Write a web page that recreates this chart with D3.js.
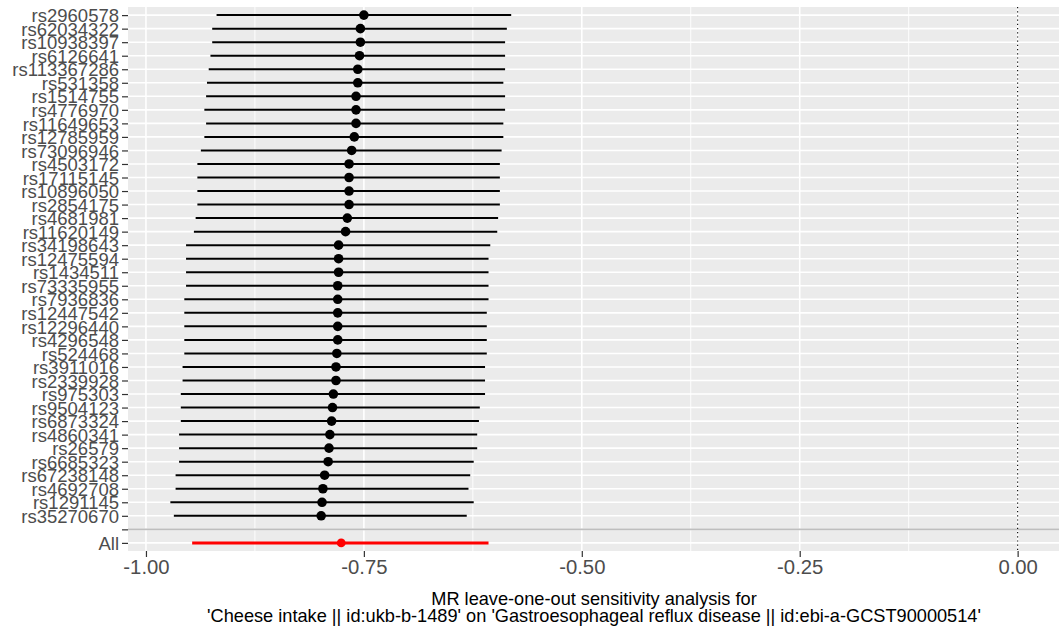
<!DOCTYPE html>
<html>
<head>
<meta charset="utf-8">
<script src="https://cdn.jsdelivr.net/npm/d3@7"></script>
<style>
  html, body { margin: 0; padding: 0; background: #fff; }
  svg { display: block; font-family: "Liberation Sans", Arial, sans-serif; }
</style>
</head>
<body>
<svg id="chart" width="1059" height="637"></svg>
<script>
// Leave-one-out estimates, top to bottom
const snps = [
  "rs2960578", "rs62034322", "rs10938397", "rs6126641", "rs113367286",
  "rs531358", "rs1514755", "rs4776970", "rs11649653", "rs12785959",
  "rs73096946", "rs4503172", "rs17115145", "rs10896050", "rs2854175",
  "rs4681981", "rs11620149", "rs34198643", "rs12475594", "rs1434511",
  "rs73335955", "rs7936836", "rs12447542", "rs12296440", "rs4296548",
  "rs524468", "rs3911016", "rs2339928", "rs975303", "rs9504123",
  "rs6873324", "rs4860341", "rs26579", "rs6685323", "rs67238148",
  "rs4692708", "rs1291145", "rs35270670"
];
const estimate = [
  -0.750, -0.754, -0.754, -0.755, -0.757, -0.757, -0.759, -0.759, -0.759, -0.761,
  -0.764, -0.767, -0.767, -0.767, -0.767, -0.769, -0.771, -0.779, -0.779, -0.779,
  -0.780, -0.780, -0.780, -0.780, -0.780, -0.781, -0.782, -0.782, -0.785, -0.786,
  -0.787, -0.789, -0.790, -0.791, -0.795, -0.797, -0.798, -0.799
];
const lower = [
  -0.919, -0.924, -0.924, -0.926, -0.928, -0.930, -0.931, -0.933, -0.931, -0.933,
  -0.937, -0.941, -0.941, -0.941, -0.941, -0.943, -0.945, -0.954, -0.954, -0.954,
  -0.954, -0.956, -0.956, -0.956, -0.956, -0.956, -0.958, -0.958, -0.960, -0.960,
  -0.960, -0.962, -0.962, -0.962, -0.966, -0.966, -0.972, -0.968
];
const upper = [
  -0.581, -0.586, -0.588, -0.588, -0.588, -0.590, -0.588, -0.588, -0.590, -0.590,
  -0.592, -0.594, -0.594, -0.594, -0.594, -0.596, -0.597, -0.605, -0.607, -0.607,
  -0.607, -0.607, -0.609, -0.609, -0.609, -0.609, -0.611, -0.611, -0.611, -0.617,
  -0.618, -0.620, -0.620, -0.624, -0.628, -0.630, -0.624, -0.632
];
// Combined estimate using all SNPs
const allLabel = "All";
const allEstimate = -0.776;
const allLower = -0.947;
const allUpper = -0.607;

const xTicks = [-1.00, -0.75, -0.50, -0.25, 0.00];
const xMinor = [-0.875, -0.625, -0.375, -0.125];
const titleLines = [
  "MR leave-one-out sensitivity analysis for",
  "'Cheese intake || id:ukb-b-1489' on 'Gastroesophageal reflux disease || id:ebi-a-GCST90000514'"
];

const rows = snps.map((s, i) => ({ snp: s, b: estimate[i], lo: lower[i], hi: upper[i] }));
const allRow = { snp: allLabel, b: allEstimate, lo: allLower, hi: allUpper };

const svg = d3.select("#chart");
const panel = { left: 128, right: 1060, top: 7, bottom: 551 };

// x domain spans the intervals and the null line at 0, padded 5% each side
const xMinData = d3.min([...lower, allLower]);
const xMaxData = 0;
const pad = (xMaxData - xMinData) * 0.05;
const x = d3.scaleLinear()
  .domain([xMinData - pad, xMaxData + pad])
  .range([panel.left, panel.right]);

const yDomain = [...snps, "", allLabel];
const y = d3.scalePoint()
  .domain(yDomain)
  .range([panel.top, panel.bottom])
  .padding(0.6);

// panel background
svg.append("rect")
  .attr("x", panel.left).attr("y", panel.top)
  .attr("width", panel.right - panel.left).attr("height", panel.bottom - panel.top)
  .attr("fill", "#EBEBEB");

const grid = svg.append("g");
grid.selectAll("line.minor").data(xMinor).join("line")
  .attr("x1", d => x(d)).attr("x2", d => x(d))
  .attr("y1", panel.top).attr("y2", panel.bottom)
  .attr("stroke", "#fff").attr("stroke-width", 0.9);
grid.selectAll("line.hmajor").data(yDomain).join("line")
  .attr("x1", panel.left).attr("x2", panel.right)
  .attr("y1", d => y(d)).attr("y2", d => y(d))
  .attr("stroke", "#fff").attr("stroke-width", 1.6);
grid.selectAll("line.vmajor").data(xTicks).join("line")
  .attr("x1", d => x(d)).attr("x2", d => x(d))
  .attr("y1", panel.top).attr("y2", panel.bottom)
  .attr("stroke", "#fff").attr("stroke-width", 1.6);

// separator between single-SNP rows and the overall estimate
svg.append("line")
  .attr("x1", panel.left).attr("x2", panel.right)
  .attr("y1", y("")).attr("y2", y(""))
  .attr("stroke", "#BEBEBE").attr("stroke-width", 1.6);

// null effect line
svg.append("line")
  .attr("x1", x(0)).attr("x2", x(0))
  .attr("y1", panel.top).attr("y2", panel.bottom)
  .attr("stroke", "#000").attr("stroke-width", 1.1)
  .attr("stroke-dasharray", "1.2,3");

// confidence intervals and point estimates
const marks = svg.append("g");
marks.selectAll("line.ci").data(rows).join("line")
  .attr("x1", d => x(d.lo)).attr("x2", d => x(d.hi))
  .attr("y1", d => y(d.snp)).attr("y2", d => y(d.snp))
  .attr("stroke", "#000").attr("stroke-width", 2);
marks.selectAll("circle.pt").data(rows).join("circle")
  .attr("cx", d => x(d.b)).attr("cy", d => y(d.snp))
  .attr("r", 4.8).attr("fill", "#000");

marks.append("line")
  .attr("x1", x(allRow.lo)).attr("x2", x(allRow.hi))
  .attr("y1", y(allRow.snp)).attr("y2", y(allRow.snp))
  .attr("stroke", "#FF0000").attr("stroke-width", 3);
marks.append("circle")
  .attr("cx", x(allRow.b)).attr("cy", y(allRow.snp))
  .attr("r", 4.4).attr("fill", "#FF0000");

// y axis
const yAxis = svg.append("g")
  .attr("transform", `translate(${panel.left},0)`)
  .call(d3.axisLeft(y).tickSize(6).tickPadding(3));
yAxis.select(".domain").remove();
yAxis.selectAll(".tick line").attr("stroke", "#333333").attr("stroke-width", 1.2);
yAxis.selectAll(".tick text")
  .attr("fill", "#4D4D4D").attr("font-size", 18.5)
  .attr("font-family", "Liberation Sans, Arial, sans-serif")
  .attr("dy", "0.36em");

// x axis
const xAxis = svg.append("g")
  .attr("transform", `translate(0,${panel.bottom})`)
  .call(d3.axisBottom(x).tickValues(xTicks).tickFormat(d => d.toFixed(2)).tickSize(6).tickPadding(3));
xAxis.select(".domain").remove();
xAxis.selectAll(".tick line").attr("stroke", "#333333").attr("stroke-width", 1.2);
xAxis.selectAll(".tick text")
  .attr("fill", "#4D4D4D").attr("font-size", 20.3)
  .attr("font-family", "Liberation Sans, Arial, sans-serif");

// x axis title
const cx = (panel.left + panel.right) / 2;
svg.append("text")
  .attr("x", cx).attr("y", 605)
  .attr("text-anchor", "middle").attr("font-size", 18.2).attr("fill", "#000")
  .selectAll("tspan").data(titleLines).join("tspan")
  .attr("x", cx).attr("dy", (d, i) => i === 0 ? 0 : 16.5)
  .text(d => d);
</script>
</body>
</html>
